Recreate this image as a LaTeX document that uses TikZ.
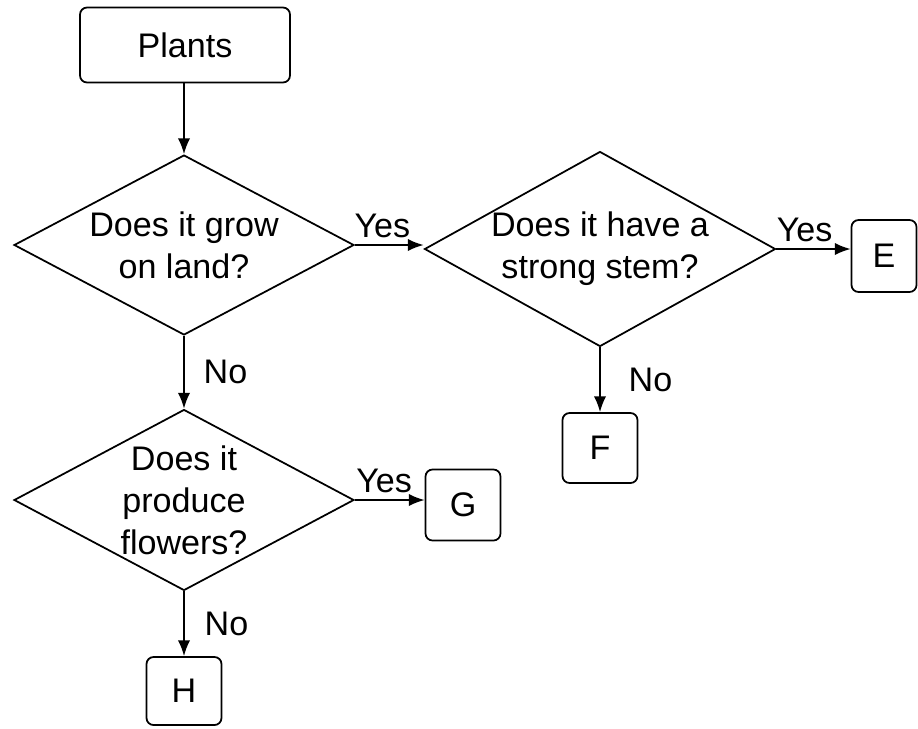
\documentclass[tikz,border=0pt]{standalone}
\usepackage{fontspec}
\setmainfont{Liberation Sans}
\usetikzlibrary{shapes.geometric,arrows.meta}

\tikzset{
    endbox/.style={draw, rectangle, rounded corners=4pt, minimum width=1.5cm, minimum height=1.4cm},
    question/.style={draw, diamond, aspect=1.9, align=center, inner sep=0pt},
    flow/.style={-{Latex[length=9pt,width=7pt]}}
}

\begin{document}
\begin{tikzpicture}[x=0.02cm, y=-0.02cm, line width=1pt,
    font=\fontsize{19.4}{24}\selectfont]
    \useasboundingbox (0,0) rectangle (918,728);

    % Start
    \node[endbox, minimum width=4.2cm, minimum height=1.5cm] (plants) at (185,45) {Plants};

    % Questions
    \node[question, minimum width=6.8cm, minimum height=3.6cm] (land) at (184,245) {Does it grow\\on land?};
    \node[question, aspect=1.8, minimum width=6.8cm, minimum height=3.8cm] (stem) at (600,249) {Does it have a\\strong stem?};
    \node[question, minimum width=6.8cm, minimum height=3.62cm] (flowers) at (184,500) {Does it\\produce\\flowers?};

    % Answers
    \node[endbox, minimum width=1.3cm, minimum height=1.44cm] (E) at (884,256) {E};
    \node[endbox] (F) at (600,448) {F};
    \node[endbox, minimum height=1.42cm] (G) at (463,505) {G};
    \node[endbox, minimum height=1.36cm] (H) at (184,691) {H};

    % Connections
    \draw[flow] (plants.south -| land.north) -- (land.north);
    \draw[flow] (land.east) -- node[above, pos=0.4] {Yes} (land.east -| stem.west);
    \draw[flow] (land.south) -- node[right=0.26cm] {No} (flowers.north);
    \draw[flow] (stem.east) -- node[above, pos=0.38] {Yes} (stem.east -| E.west);
    \draw[flow] (stem.south) -- node[right=0.44cm] {No} (F.north);
    \draw[flow] (flowers.east) -- node[above, pos=0.42] {Yes} (flowers.east -| G.west);
    \draw[flow] (flowers.south) -- node[right=0.28cm] {No} (H.north);
\end{tikzpicture}
\end{document}
